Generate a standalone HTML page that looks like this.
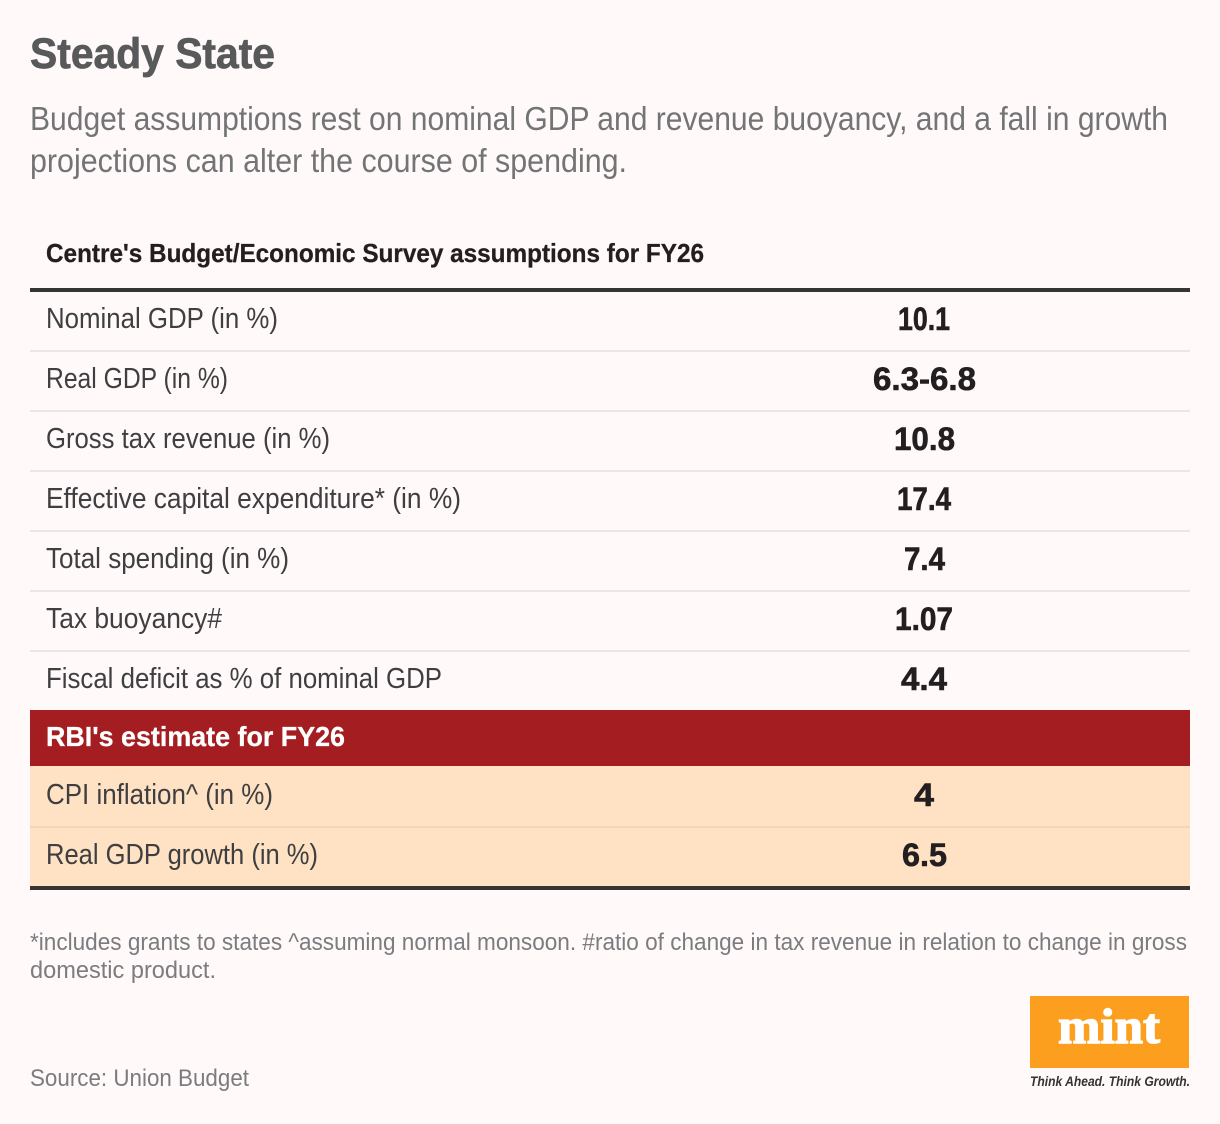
<!DOCTYPE html>
<html lang="en">
<head>
<meta charset="utf-8">
<title>Steady State</title>
<style>
html,body{margin:0;padding:0;background:#fff9f9;}
svg{display:block;}
text{font-family:"Liberation Sans",sans-serif;}
.lbl{font-size:28.5px;fill:#3f3f41;}
.val{font-size:32px;font-weight:700;fill:#231f20;stroke:#231f20;stroke-width:.6px;}
.sub{font-size:33.5px;fill:#737476;}
.note{font-size:24.5px;fill:#7b7c7f;}
</style>
</head>
<body>
<svg xmlns="http://www.w3.org/2000/svg" width="1220" height="1124" viewBox="0 0 1220 1124">
<rect x="0" y="0" width="1220" height="1124" fill="#fff9f9"/>

<text x="30" y="68" font-size="43" font-weight="700" fill="#58595b" stroke="#58595b" stroke-width="0.7" textLength="245" lengthAdjust="spacingAndGlyphs">Steady State</text>
<text class="sub" x="30" y="130" textLength="1138" lengthAdjust="spacingAndGlyphs">Budget assumptions rest on nominal GDP and revenue buoyancy, and a fall in growth</text>
<text class="sub" x="30" y="172" textLength="597" lengthAdjust="spacingAndGlyphs">projections can alter the course of spending.</text>

<text x="46" y="262" font-size="26" font-weight="700" fill="#231f20" stroke="#231f20" stroke-width="0.3" textLength="658" lengthAdjust="spacingAndGlyphs">Centre's Budget/Economic Survey assumptions for FY26</text>
<rect x="30" y="288" width="1160" height="4" fill="#353535"/>

<rect x="30" y="350" width="1160" height="2" fill="#ece6e5"/>
<rect x="30" y="410" width="1160" height="2" fill="#ece6e5"/>
<rect x="30" y="470" width="1160" height="2" fill="#ece6e5"/>
<rect x="30" y="530" width="1160" height="2" fill="#ece6e5"/>
<rect x="30" y="590" width="1160" height="2" fill="#ece6e5"/>
<rect x="30" y="650" width="1160" height="2" fill="#ece6e5"/>

<text class="lbl" x="46" y="328" textLength="232" lengthAdjust="spacingAndGlyphs">Nominal GDP (in %)</text>
<text class="val" x="898" y="330" textLength="52" lengthAdjust="spacingAndGlyphs">10.1</text>
<text class="lbl" x="46" y="388" textLength="182" lengthAdjust="spacingAndGlyphs">Real GDP (in %)</text>
<text class="val" x="873" y="390" textLength="103" lengthAdjust="spacingAndGlyphs">6.3-6.8</text>
<text class="lbl" x="46" y="448" textLength="284" lengthAdjust="spacingAndGlyphs">Gross tax revenue (in %)</text>
<text class="val" x="894" y="450" textLength="61" lengthAdjust="spacingAndGlyphs">10.8</text>
<text class="lbl" x="46" y="508" textLength="415" lengthAdjust="spacingAndGlyphs">Effective capital expenditure* (in %)</text>
<text class="val" x="897" y="510" textLength="54" lengthAdjust="spacingAndGlyphs">17.4</text>
<text class="lbl" x="46" y="568" textLength="243" lengthAdjust="spacingAndGlyphs">Total spending (in %)</text>
<text class="val" x="904" y="570" textLength="41" lengthAdjust="spacingAndGlyphs">7.4</text>
<text class="lbl" x="46" y="628" textLength="176" lengthAdjust="spacingAndGlyphs">Tax buoyancy#</text>
<text class="val" x="895" y="630" textLength="58" lengthAdjust="spacingAndGlyphs">1.07</text>
<text class="lbl" x="46" y="688" textLength="396" lengthAdjust="spacingAndGlyphs">Fiscal deficit as % of nominal GDP</text>
<text class="val" x="901" y="690" textLength="46" lengthAdjust="spacingAndGlyphs">4.4</text>

<rect x="30" y="710" width="1160" height="56" fill="#a31d21"/>
<text x="46" y="746" font-size="28" font-weight="700" fill="#ffffff" stroke="#ffffff" stroke-width="0.3" textLength="299" lengthAdjust="spacingAndGlyphs">RBI's estimate for FY26</text>
<rect x="30" y="766" width="1160" height="120" fill="#fee2c3"/>
<rect x="30" y="826" width="1160" height="2" fill="#efd7bc"/>
<rect x="30" y="886" width="1160" height="4" fill="#353535"/>

<text class="lbl" x="46" y="804" textLength="227" lengthAdjust="spacingAndGlyphs">CPI inflation^ (in %)</text>
<text class="val" x="914" y="806" textLength="20" lengthAdjust="spacingAndGlyphs">4</text>
<text class="lbl" x="46" y="864" textLength="272" lengthAdjust="spacingAndGlyphs">Real GDP growth (in %)</text>
<text class="val" x="902" y="866" textLength="45" lengthAdjust="spacingAndGlyphs">6.5</text>

<text class="note" x="30" y="950" textLength="1157" lengthAdjust="spacingAndGlyphs">*includes grants to states ^assuming normal monsoon. #ratio of change in tax revenue in relation to change in gross</text>
<text class="note" x="30" y="978" textLength="186" lengthAdjust="spacingAndGlyphs">domestic product.</text>
<text class="note" x="30" y="1086" textLength="219" lengthAdjust="spacingAndGlyphs">Source: Union Budget</text>

<rect x="1030" y="996" width="159" height="72" fill="#fc9f1e"/>
<text x="1058" y="1043" font-size="50" font-weight="700" fill="#ffffff" stroke="#ffffff" stroke-width="1.4" textLength="102" lengthAdjust="spacingAndGlyphs" style="font-family:'Liberation Serif',serif">mint</text>
<text x="1030" y="1086" font-size="14" font-style="italic" font-weight="700" fill="#333333" textLength="160" lengthAdjust="spacingAndGlyphs">Think Ahead. Think Growth.</text>
</svg>
</body>
</html>
